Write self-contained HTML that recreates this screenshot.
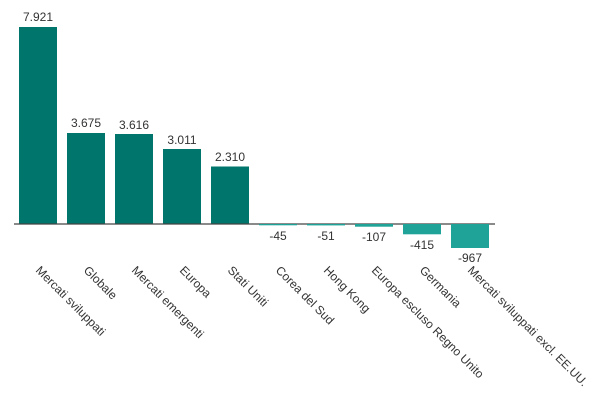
<!DOCTYPE html>
<html><head><meta charset="utf-8"><style>body{margin:0;background:#fff}svg{display:block}text{font-family:"Liberation Sans",sans-serif;fill:#333;font-size:12px}.r{font-size:12.6px}</style></head><body>
<svg width="605" height="410" viewBox="0 0 605 410">
<g fill="#00756b">
<rect x="19" y="27" width="38" height="197"/>
<rect x="67" y="133" width="38" height="91"/>
<rect x="115" y="134" width="38" height="90"/>
<rect x="163" y="149" width="38" height="75"/>
<rect x="211" y="166.5" width="38" height="57.5"/>
</g>
<line x1="14" y1="224" x2="495" y2="224" stroke="#444" stroke-width="1.3"/>
<g fill="#1fa398">
<rect x="259" y="224" width="38" height="1.3"/>
<rect x="307" y="224" width="38" height="1.4"/>
<rect x="355" y="224" width="38" height="2.7"/>
<rect x="403" y="224" width="38" height="10.3"/>
<rect x="451" y="224" width="38" height="24"/>
</g>
<g text-anchor="middle">
<text x="38" y="21">7.921</text>
<text x="86" y="127">3.675</text>
<text x="134" y="129">3.616</text>
<text x="182" y="144">3.011</text>
<text x="230" y="161">2.310</text>
<text x="278" y="240">-45</text>
<text x="326" y="240">-51</text>
<text x="374" y="241">-107</text>
<text x="422" y="249">-415</text>
<text x="470" y="262">-967</text>
</g>
<g class="r">
<text transform="translate(35,271) rotate(45)">Mercati sviluppati</text>
<text transform="translate(83,271) rotate(45)">Globale</text>
<text transform="translate(131,271) rotate(45)">Mercati emergenti</text>
<text transform="translate(179,271) rotate(45)">Europa</text>
<text transform="translate(227,271) rotate(45)">Stati Uniti</text>
<text transform="translate(275,271) rotate(45)">Corea del Sud</text>
<text transform="translate(323,271) rotate(45)">Hong Kong</text>
<text transform="translate(371,271) rotate(45)">Europa escluso Regno Unito</text>
<text transform="translate(419,271) rotate(45)">Germania</text>
<text transform="translate(467,271) rotate(45)">Mercati sviluppati excl. EE.UU.</text>
</g>
</svg>
</body></html>
